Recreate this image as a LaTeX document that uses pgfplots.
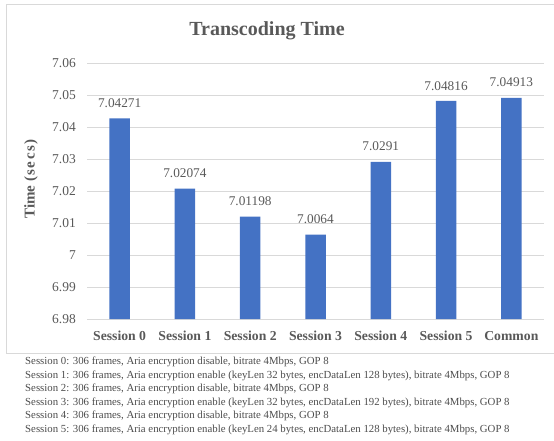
\documentclass[border=0pt]{standalone}
\usepackage{fontspec}
\setmainfont{Liberation Serif}
\usepackage{pgfplots}
\pgfplotsset{compat=1.18}
\definecolor{barblue}{HTML}{4472C4}
\definecolor{txt}{HTML}{595959}
\definecolor{gridc}{HTML}{D9D9D9}
\begin{document}
\begin{tikzpicture}
\useasboundingbox (0pt,0pt) rectangle (554pt,-441pt);
\draw[gridc, line width=0.8pt] (554pt,-4.5pt) -- (6.5pt,-4.5pt) -- (6.5pt,-353pt) -- (554pt,-353pt);
\node[font=\fontsize{20}{24}\selectfont\bfseries, text=txt] at (267pt,-31pt) {Transcoding Time};
\node[font=\fontsize{15}{17}\selectfont\bfseries, text=txt, rotate=90] at (31pt,-179pt) {Time {\addfontfeature{LetterSpace=10}(secs)}};
\begin{axis}[
  at={(87pt,-319pt)}, anchor=south west,
  scale only axis, width=457pt, height=256pt,
  xmin=-0.5, xmax=6.5, ymin=6.98, ymax=7.06,
  xtick={0,1,2,3,4,5,6},
  xticklabels={Session 0,Session 1,Session 2,Session 3,Session 4,Session 5,Common},
  ytick={6.98,6.99,7,7.01,7.02,7.03,7.04,7.05,7.06},
  yticklabels={6.98,6.99,7,7.01,7.02,7.03,7.04,7.05,7.06},
  major tick length=0pt,
  axis line style={draw=none},
  ymajorgrids, grid style={gridc, line width=0.8pt},
  yticklabel style={font=\fontsize{13.5}{15}\selectfont, text=txt, inner sep=0pt, anchor=east, xshift=-11pt},
  xticklabel style={font=\fontsize{13.7}{15}\selectfont\bfseries, text=txt, inner sep=0pt, anchor=north, yshift=-12pt},
  ybar, bar width=20.5pt,
  nodes near coords,
  point meta=explicit symbolic,
  every node near coord/.append style={font=\fontsize{13.3}{15}\selectfont, text=txt, inner sep=0pt, anchor=south, yshift=10.5pt},
]
\addplot[fill=barblue, draw=none] table[meta=lab] {
x y lab
0 7.04271 7.04271
1 7.02074 7.02074
2 7.01198 7.01198
3 7.0064 7.0064
4 7.0291 7.0291
5 7.04816 7.04816
6 7.04913 7.04913
};
\end{axis}
\node[anchor=north west, inner sep=0pt, align=left, font=\fontsize{10.8}{13.5}\selectfont, text=txt!85!black] at (25pt,-357pt) {%
Session 0: 306 frames, Aria encryption disable, bitrate 4Mbps, GOP 8\\
Session 1: 306 frames, Aria encryption enable (keyLen 32 bytes, encDataLen 128 bytes), bitrate 4Mbps, GOP 8\\
Session 2: 306 frames, Aria encryption disable, bitrate 4Mbps, GOP 8\\
Session 3: 306 frames, Aria encryption enable (keyLen 32 bytes, encDataLen 192 bytes), bitrate 4Mbps, GOP 8\\
Session 4: 306 frames, Aria encryption disable, bitrate 4Mbps, GOP 8\\
Session 5: 306 frames, Aria encryption enable (keyLen 24 bytes, encDataLen 128 bytes), bitrate 4Mbps, GOP 8};
\end{tikzpicture}
\end{document}
